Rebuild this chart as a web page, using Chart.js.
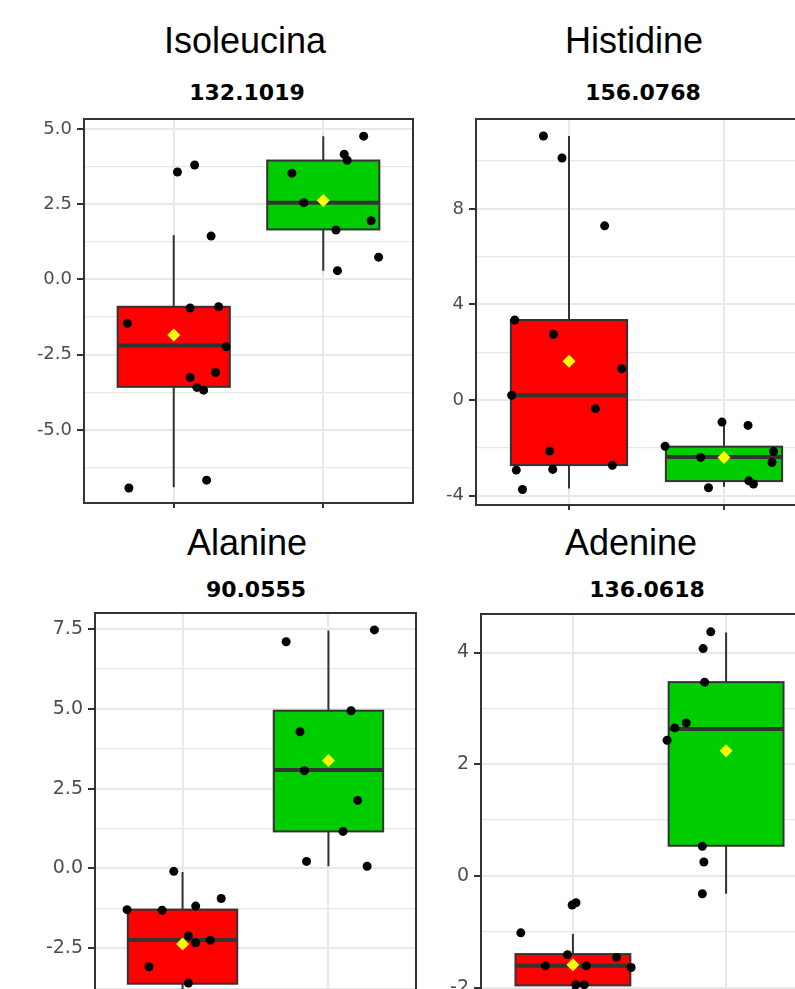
<!DOCTYPE html>
<html>
<head>
<meta charset="utf-8">
<script src="https://cdn.jsdelivr.net/npm/chart.js@4/dist/chart.umd.min.js"></script>
<style>
  html, body { margin: 0; padding: 0; width: 795px; height: 989px; overflow: hidden; background: #fff; }
  canvas { position: absolute; }
  .ttl { position: absolute; transform: translateX(-50%); white-space: nowrap; line-height: 1; color: #000; }
  .name { font: 36px "Liberation Sans", Arial, sans-serif; }
  .mz { font: bold 22px "DejaVu Sans", sans-serif; }
</style>
</head>
<body>
<div class="ttl name" style="left:245px;top:20px">Isoleucina</div>
<div class="ttl mz" style="left:247px;top:80px">132.1019</div>
<div class="ttl name" style="left:634px;top:20px">Histidine</div>
<div class="ttl mz" style="left:643px;top:80px">156.0768</div>
<div class="ttl name" style="left:247px;top:522px">Alanine</div>
<div class="ttl mz" style="left:256px;top:577px">90.0555</div>
<div class="ttl name" style="left:631px;top:522px">Adenine</div>
<div class="ttl mz" style="left:647px;top:577px">136.0618</div>

<canvas id="iso"></canvas>
<canvas id="his"></canvas>
<canvas id="ala"></canvas>
<canvas id="ade"></canvas>

<script>
// two groups on a numeric x axis: red group at 1, green group at 2
const groupX = [1, 2];
const groupFill = ["#ff0000", "#00cd00"];

// box stats: [lower whisker, Q1, median, Q3, upper whisker]

// Isoleucina 132.1019
const isoRange = [-7.43, 5.33];
const isoTicks = [-5, -2.5, 0, 2.5, 5];
const isoTickLabels = ["-5.0", "-2.5", "0.0", "2.5", "5.0"];
const isoMinor = [-6.25, -3.75, -1.25, 1.25, 3.75];
const isoRedBox = [-6.91, -3.57, -2.2, -0.91, 1.47];
const isoGreenBox = [0.29, 1.66, 2.55, 3.95, 4.76];
const isoMeans = [-1.85, 2.62];
const isoRedY = [-6.93, 3.57, 3.8, 1.44, -1.46, -0.95, -0.91, -2.24, -3.26, -3.09, -3.59, -3.68, -6.67];
const isoRedJit = [-0.3, 0.025, 0.14, 0.25, -0.31, 0.11, 0.3, 0.35, 0.11, 0.28, 0.155, 0.2, 0.22];
const isoGreenY = [3.53, 2.55, 4.76, 4.16, 3.96, 1.95, 1.64, 0.74, 0.29];
const isoGreenJit = [-0.21, -0.13, 0.27, 0.14, 0.16, 0.32, 0.085, 0.37, 0.095];

// Histidine 156.0768
const hisRange = [-4.39, 11.76];
const hisTicks = [-4, 0, 4, 8];
const hisTickLabels = ["-4", "0", "4", "8"];
const hisMinor = [-2, 2, 6, 10];
const hisRedBox = [-3.7, -2.72, 0.2, 3.35, 11.05];
const hisGreenBox = [-3.63, -3.39, -2.38, -1.95, -0.92];
const hisMeans = [1.62, -2.4];
const hisRedY = [11.05, 10.13, 7.29, 3.35, 2.75, 1.31, 0.2, -0.36, -2.13, -2.73, -2.93, -2.9, -3.74];
const hisRedJit = [-0.165, -0.045, 0.23, -0.35, -0.1, 0.34, -0.37, 0.17, -0.125, 0.28, -0.34, -0.105, -0.3];
const hisGreenY = [-0.92, -1.06, -1.93, -2.4, -2.15, -2.61, -3.38, -3.51, -3.67];
const hisGreenJit = [-0.013, 0.155, -0.38, -0.15, 0.32, 0.31, 0.16, 0.19, -0.1];

// Alanine 90.0555
const alaRange = [-4.12, 8.0];
const alaTicks = [-2.5, 0, 2.5, 5, 7.5];
const alaTickLabels = ["-2.5", "0.0", "2.5", "5.0", "7.5"];
const alaMinor = [-3.75, -1.25, 1.25, 3.75, 6.25];
const alaRedBox = [-4.5, -3.61, -2.24, -1.29, -0.11];
const alaGreenBox = [0.07, 1.16, 3.08, 4.94, 7.45];
const alaMeans = [-2.37, 3.38];
const alaRedY = [-0.09, -1.29, -1.31, -1.18, -0.94, -2.11, -2.33, -2.25, -3.08, -3.59];
const alaRedJit = [-0.06, -0.38, -0.14, 0.09, 0.265, 0.04, 0.09, 0.19, -0.23, 0.04];
const alaGreenY = [7.1, 7.47, 4.94, 4.28, 3.06, 2.13, 1.16, 0.22, 0.07];
const alaGreenJit = [-0.29, 0.315, 0.155, -0.195, -0.165, 0.2, 0.1, -0.15, 0.265];

// Adenine 136.0618
const adeRange = [-2.24, 4.69];
const adeTicks = [-2, 0, 2, 4];
const adeTickLabels = ["-2", "0", "2", "4"];
const adeMinor = [-1, 1, 3];
const adeRedBox = [-2.4, -1.96, -1.61, -1.4, -1.04];
const adeGreenBox = [-0.32, 0.54, 2.63, 3.47, 4.36];
const adeMeans = [-1.59, 2.24];
const adeRedY = [-1.02, -0.52, -0.48, -1.41, -1.61, -1.61, -1.46, -1.64, -1.95, -1.95];
const adeRedJit = [-0.34, -0.005, 0.02, -0.035, -0.18, 0.087, 0.285, 0.38, 0.02, 0.074];
const adeGreenY = [4.37, 4.07, 3.47, 2.74, 2.65, 2.43, 0.53, 0.25, -0.32];
const adeGreenJit = [-0.1, -0.15, -0.14, -0.26, -0.335, -0.385, -0.155, -0.145, -0.155];

Chart.defaults.font.family = "DejaVu Sans";

const boxPlugin = {
  id: "boxes",
  beforeDatasetsDraw(chart, args, opts) {
    const { ctx, chartArea: a, scales: { x, y } } = chart;
    ctx.save();
    ctx.beginPath();
    ctx.rect(a.left, a.top, a.right - a.left, a.bottom - a.top);
    ctx.clip();
    opts.stats.forEach((b, i) => {
      const cx = x.getPixelForValue(groupX[i]);
      const hw = x.getPixelForValue(groupX[i] + 0.375) - cx;
      const [lo, q1, med, q3, hi] = b.map(v => y.getPixelForValue(v));
      ctx.strokeStyle = "#333";
      ctx.lineWidth = 2;
      ctx.beginPath();
      ctx.moveTo(cx, hi); ctx.lineTo(cx, q3);
      ctx.moveTo(cx, q1); ctx.lineTo(cx, lo);
      ctx.stroke();
      ctx.fillStyle = groupFill[i];
      ctx.fillRect(cx - hw, q3, 2 * hw, q1 - q3);
      ctx.strokeRect(cx - hw, q3, 2 * hw, q1 - q3);
      ctx.lineWidth = 4;
      ctx.beginPath();
      ctx.moveTo(cx - hw, med); ctx.lineTo(cx + hw, med);
      ctx.stroke();
    });
    ctx.restore();
  },
  afterDraw(chart) {
    const { ctx, chartArea: a } = chart;
    ctx.save();
    ctx.strokeStyle = "#333";
    ctx.lineWidth = 2;
    ctx.strokeRect(a.left, a.top, a.right - a.left, a.bottom - a.top);
    ctx.restore();
  }
};

function makePanel(id, rect, fontSize, o) {
  const yW = 80, xH = 20, padTop = 20, padRight = 20;
  const cv = document.getElementById(id);
  cv.width = yW + rect.w + padRight;
  cv.height = padTop + rect.h + xH;
  cv.style.left = (rect.x - yW) + "px";
  cv.style.top = (rect.y - padTop) + "px";
  const isMajor = v => o.ticks.includes(v);

  new Chart(cv, {
    type: "scatter",
    data: {
      datasets: [
        {
          data: groupX.map((x, i) => ({ x, y: o.means[i] })),
          pointStyle: "rectRot", pointRadius: 6.5, backgroundColor: "#ffff00", borderWidth: 0
        },
        {
          data: o.redY.map((y, i) => ({ x: groupX[0] + o.redJit[i], y })),
          pointRadius: 4.5, backgroundColor: "#000", borderWidth: 0
        },
        {
          data: o.greenY.map((y, i) => ({ x: groupX[1] + o.greenJit[i], y })),
          pointRadius: 4.5, backgroundColor: "#000", borderWidth: 0
        }
      ]
    },
    options: {
      responsive: false,
      animation: false,
      devicePixelRatio: 1,
      events: [],
      layout: { padding: { top: padTop, right: padRight, left: 0, bottom: 0 } },
      plugins: {
        legend: { display: false },
        tooltip: { enabled: false },
        boxes: { stats: [o.redBox, o.greenBox] }
      },
      scales: {
        x: {
          type: "linear", min: 0.4, max: 2.6,
          afterBuildTicks: s => { s.ticks = groupX.map(v => ({ value: v })); },
          afterFit: s => { s.height = xH; s.paddingLeft = 0; s.paddingRight = 0; },
          ticks: { display: false },
          grid: { color: "#e8e8e8", lineWidth: 2, tickLength: 5, tickColor: "#333", tickWidth: 2 },
          border: { display: false }
        },
        y: {
          type: "linear", min: o.range[0], max: o.range[1],
          afterBuildTicks: s => {
            s.ticks = o.ticks.concat(o.minor).sort((a, b) => a - b).map(v => ({ value: v }));
          },
          afterFit: s => { s.width = yW; s.paddingTop = 0; s.paddingBottom = 0; },
          ticks: {
            autoSkip: false,
            padding: 5,
            color: "#4d4d4d",
            font: { size: fontSize },
            callback: v => { const k = o.ticks.indexOf(v); return k < 0 ? "" : o.labels[k]; }
          },
          grid: {
            color: "#e8e8e8",
            lineWidth: c => isMajor(c.tick.value) ? 2 : 1.2,
            tickLength: 7,
            tickWidth: 2,
            tickColor: c => isMajor(c.tick.value) ? "#333" : "rgba(0,0,0,0)"
          },
          border: { display: false }
        }
      }
    },
    plugins: [boxPlugin]
  });
}

makePanel("iso", { x: 84, y: 119, w: 329, h: 384 }, 18, {
  range: isoRange, ticks: isoTicks, labels: isoTickLabels, minor: isoMinor,
  redBox: isoRedBox, greenBox: isoGreenBox, means: isoMeans,
  redY: isoRedY, redJit: isoRedJit, greenY: isoGreenY, greenJit: isoGreenJit
});
makePanel("his", { x: 476, y: 119, w: 341, h: 386 }, 18, {
  range: hisRange, ticks: hisTicks, labels: hisTickLabels, minor: hisMinor,
  redBox: hisRedBox, greenBox: hisGreenBox, means: hisMeans,
  redY: hisRedY, redJit: hisRedJit, greenY: hisGreenY, greenJit: hisGreenJit
});
makePanel("ala", { x: 95, y: 613, w: 321, h: 387 }, 19, {
  range: alaRange, ticks: alaTicks, labels: alaTickLabels, minor: alaMinor,
  redBox: alaRedBox, greenBox: alaGreenBox, means: alaMeans,
  redY: alaRedY, redJit: alaRedJit, greenY: alaGreenY, greenJit: alaGreenJit
});
makePanel("ade", { x: 481, y: 614, w: 337, h: 387 }, 19, {
  range: adeRange, ticks: adeTicks, labels: adeTickLabels, minor: adeMinor,
  redBox: adeRedBox, greenBox: adeGreenBox, means: adeMeans,
  redY: adeRedY, redJit: adeRedJit, greenY: adeGreenY, greenJit: adeGreenJit
});
</script>
</body>
</html>
